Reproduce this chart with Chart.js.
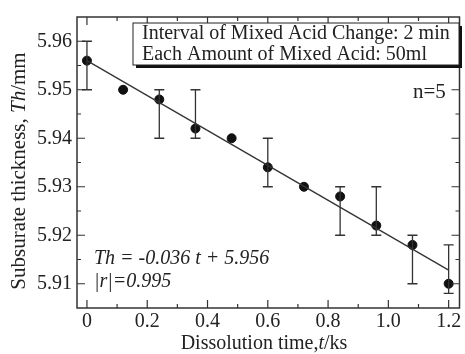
<!DOCTYPE html>
<html>
<head>
<meta charset="utf-8">
<script src="https://cdn.jsdelivr.net/npm/chart.js@4"></script>
<style>
  body { margin: 0; background: #fff; }
  #wrap { width: 465px; height: 354px; }
</style>
</head>
<body>
<div id="wrap"><canvas id="chart" width="465" height="354"></canvas></div>
<script>
const times = [0, 0.12, 0.24, 0.36, 0.48, 0.60, 0.72, 0.84, 0.96, 1.08, 1.20];
const thickness = [5.956, 5.950, 5.948, 5.942, 5.940, 5.934, 5.930, 5.928, 5.922, 5.918, 5.910];
const errUpper = [5.960, null, 5.950, 5.950, null, 5.940, null, 5.930, 5.930, 5.920, 5.918];
const errLower = [5.950, null, 5.940, 5.940, null, 5.930, null, 5.920, 5.920, 5.910, 5.908];

// regression line Th = -0.036 t + 5.956
const fitX = [0, 1.2];
const fitY = [5.956 - 0.036 * 0, 5.956 - 0.036 * 1.2];

const xTicks = [0, 0.2, 0.4, 0.6, 0.8, 1.0, 1.2];
const xMinor = [0.1, 0.3, 0.5, 0.7, 0.9, 1.1];
const yTicks = [5.91, 5.92, 5.93, 5.94, 5.95, 5.96];
const yMinor = [5.915, 5.925, 5.935, 5.945, 5.955];

const serif = '"Liberation Serif", "Times New Roman", serif';
const ink = '#222';

// error bars, inward ticks, frame and text
const extras = {
  id: 'extras',
  afterDatasetsDraw(chart) {
    const { ctx, chartArea: a, scales: { x, y } } = chart;
    ctx.save();
    ctx.strokeStyle = '#333';
    ctx.lineWidth = 1.3;

    // error bars
    times.forEach((t, i) => {
      if (errUpper[i] == null) return;
      const px = x.getPixelForValue(t);
      const top = y.getPixelForValue(errUpper[i]);
      const bot = y.getPixelForValue(errLower[i]);
      ctx.beginPath();
      ctx.moveTo(px, top); ctx.lineTo(px, bot);
      ctx.moveTo(px - 5, top); ctx.lineTo(px + 5, top);
      ctx.moveTo(px - 5, bot); ctx.lineTo(px + 5, bot);
      ctx.stroke();
    });

    // frame
    ctx.lineWidth = 1.5;
    ctx.strokeRect(a.left, a.top, a.right - a.left, a.bottom - a.top);

    // inward ticks
    ctx.lineWidth = 1.2;
    ctx.beginPath();
    const xt = (vals, len) => vals.forEach(v => {
      const px = x.getPixelForValue(v);
      ctx.moveTo(px, a.bottom); ctx.lineTo(px, a.bottom - len);
      ctx.moveTo(px, a.top); ctx.lineTo(px, a.top + len);
    });
    const yt = (vals, len) => vals.forEach(v => {
      const py = y.getPixelForValue(v);
      ctx.moveTo(a.left, py); ctx.lineTo(a.left + len, py);
      ctx.moveTo(a.right, py); ctx.lineTo(a.right - len, py);
    });
    xt(xTicks, 8); xt(xMinor, 4);
    yt(yTicks, 8); yt(yMinor, 4);
    ctx.stroke();

    // annotation box with shadow
    const bx = 133, by = 23, bw = 326, bh = 42;
    ctx.fillStyle = '#111';
    ctx.fillRect(bx + 3, by + 3, bw, bh);
    ctx.fillStyle = '#fff';
    ctx.fillRect(bx, by, bw, bh);
    ctx.lineWidth = 1;
    ctx.strokeStyle = '#222';
    ctx.strokeRect(bx, by, bw, bh);

    ctx.fillStyle = ink;
    ctx.textBaseline = 'middle';
    ctx.textAlign = 'left';
    ctx.font = '20px ' + serif;
    ctx.fillText('Interval of Mixed Acid Change: 2 min', 142, 34);
    ctx.fillText('Each Amount of Mixed Acid: 50ml', 142, 55);
    ctx.font = '21px ' + serif;
    ctx.fillText('n=5', 413, 92);

    ctx.font = 'italic 20px ' + serif;
    ctx.fillText('Th = -0.036 t + 5.956', 94, 259);
    ctx.fillText('|r|=0.995', 94, 282);

    // axis titles with an italic symbol
    const parts = (list, size, cx, cy) => {
      let w = 0;
      list.forEach(p => { ctx.font = p[1] + size + 'px ' + serif; w += ctx.measureText(p[0]).width; });
      let cur = cx - w / 2;
      list.forEach(p => {
        ctx.font = p[1] + size + 'px ' + serif;
        ctx.fillText(p[0], cur, cy);
        cur += ctx.measureText(p[0]).width;
      });
    };
    parts([['Dissolution time,', ''], ['t', 'italic '], ['/ks', '']], 20, 264, 344);

    ctx.translate(19, 171);
    ctx.rotate(-Math.PI / 2);
    parts([['Subsurate thickness, ', ''], ['Th', 'italic '], ['/mm', '']], 21, 0, 0);
    ctx.restore();
  }
};

new Chart(document.getElementById('chart'), {
  type: 'scatter',
  data: {
    datasets: [{
      type: 'line',
      data: fitX.map((v, i) => ({ x: v, y: fitY[i] })),
      borderColor: '#333',
      borderWidth: 1.3,
      pointRadius: 0,
      fill: false
    }, {
      data: times.map((t, i) => ({ x: t, y: thickness[i] })),
      backgroundColor: '#111',
      borderColor: '#111',
      pointRadius: 4.5
    }]
  },
  options: {
    responsive: false,
    animation: false,
    layout: { padding: { top: 14, right: 3 } },
    plugins: { legend: { display: false }, tooltip: { enabled: false } },
    scales: {
      x: {
        type: 'linear',
        min: -0.033,
        max: 1.236,
        grid: { display: false, drawTicks: false, tickLength: 0 },
        border: { display: false },
        afterBuildTicks: s => { s.ticks = xTicks.map(v => ({ value: v })); },
        afterFit: s => { s.height = 46; },
        ticks: {
          padding: 2,
          color: ink,
          font: { family: serif, size: 20 },
          callback: v => v === 0 ? '0' : v.toFixed(1)
        }
      },
      y: {
        min: 5.905,
        max: 5.965,
        grid: { display: false, drawTicks: false, tickLength: 0 },
        border: { display: false },
        afterBuildTicks: s => { s.ticks = yTicks.map(v => ({ value: v })); },
        afterFit: s => { s.width = 77; },
        ticks: {
          padding: 5,
          color: ink,
          font: { family: serif, size: 20 },
          callback: v => v.toFixed(2)
        }
      }
    }
  },
  plugins: [extras]
});
</script>
</body>
</html>
